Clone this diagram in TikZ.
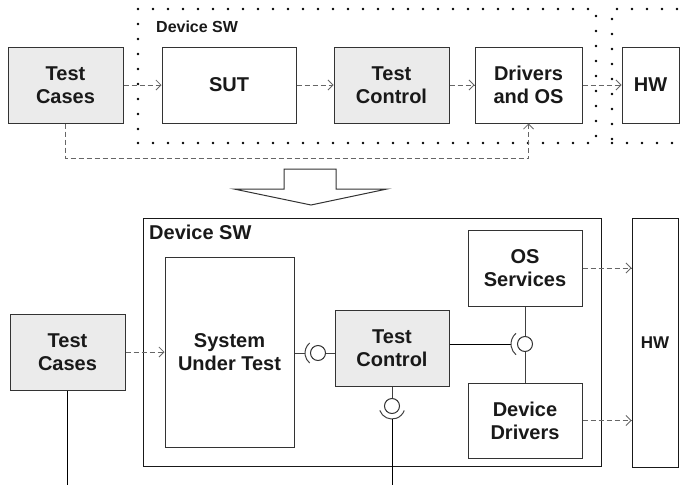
\documentclass[tikz,border=0pt]{standalone}
\usepackage{fontspec}
\setmainfont{Liberation Sans}
\usetikzlibrary{arrows.meta, positioning}

\begin{document}
\begin{tikzpicture}[x=1pt, y=-1pt,
        block/.style={rectangle, draw=black!80, fill=white, line width=1pt, inner sep=0pt, align=center, text=black!90, font=\fontsize{20}{23}\selectfont\bfseries},
        tester/.style={block, fill=black!8},
        frame/.style={rectangle, draw=black!90, line width=1pt, inner sep=0pt},
        dotbox/.style={rectangle, draw=black, line width=2.6pt, line cap=round, dash pattern=on 0pt off 15pt, inner sep=0pt},
        label/.style={anchor=west, inner sep=0pt, text=black!90, font=\fontsize{#1}{#1}\selectfont\bfseries},
        flow/.style={->, >={Straight Barb[length=5pt, width=10pt]}, draw=black!60, line width=0.8pt, dash pattern=on 5pt off 3pt},
        link/.style={draw=black!75, line width=1pt},
        ball/.style={circle, draw=black!80, fill=white, line width=1pt, minimum size=15pt, inner sep=0pt}
    ]
        \useasboundingbox (0,0) rectangle (683,485);

        % Oben: Ablauf
        \node[dotbox, minimum width=458pt, minimum height=134pt] (swA) at (367,76) {};
        \node[dotbox, minimum width=108pt, minimum height=134pt] (hwFrameA) at (666,76) {};
        \node[label=16] (swLabelA) at (156,27) {Device SW};

        \node[tester, minimum width=115pt, minimum height=76pt] (casesA) at (65.5,85) {Test\\Cases};
        \node[block, minimum width=134pt, minimum height=76pt] (sutA) at (229,85) {SUT};
        \node[tester, minimum width=115pt, minimum height=76pt] (ctrlA) at (391.5,85) {Test\\Control};
        \node[block, minimum width=107pt, minimum height=76pt] (drvA) at (528.5,85) {Drivers\\and OS};
        \node[block, minimum width=57pt, minimum height=76pt] (hwA) at (650.5,85) {HW};

        \draw[flow] (casesA) -- (sutA);
        \draw[flow] (sutA) -- (ctrlA);
        \draw[flow] (ctrlA) -- (drvA);
        \draw[flow] (drvA) -- (hwA);
        \draw[flow] (casesA.south) -- ++(0,35) -| (drvA.south);

        % Pfeil
        \draw[line width=1pt, draw=black!80, fill=white] (284,189) -- (284,169) -- (336,169) -- (336,189) -- (387,189) -- (311,205) -- (234,189) -- cycle;

        % Unten: Aufbau
        \node[frame, minimum width=458pt, minimum height=248pt] (swB) at (372,342) {};
        \node[label=20] (swLabelB) at (149,232) {Device SW};

        \node[tester, minimum width=115pt, minimum height=76pt] (casesB) at (67.5,352) {Test\\Cases};
        \node[block, minimum width=129pt, minimum height=190pt] (sutB) at (229.5,352) {System\\Under Test};
        \node[tester, minimum width=114pt, minimum height=76pt] (ctrlB) at (392,348) {Test\\Control};
        \node[block, minimum width=114pt, minimum height=76pt] (osB) at (525,268) {OS\\Services};
        \node[block, minimum width=114pt, minimum height=75pt] (devB) at (525,420.5) {Device\\Drivers};
        \node[block, draw=black!90, minimum width=46pt, minimum height=249pt, font=\fontsize{17}{20}\selectfont\bfseries] (hwB) at (655,342.5) {HW};

        % Schnittstellen
        \node[ball] (ballSut) at (318,353) {};
        \node[ball] (ballCtrl) at (392,406) {};
        \node[ball] (ballOs) at (525,344) {};
        \coordinate (sockSut) at (305,353);
        \coordinate (sockCtrl) at (392,419);
        \coordinate (sockOs) at (511,344);
        \coordinate (casesEnd) at (67.5,485);
        \coordinate (ctrlEnd) at (392,485);

        \draw[link] (sutB.east |- sockSut) -- (sockSut);
        \draw[link] (ballSut.center) ++(130:13pt) arc[start angle=130, end angle=230, radius=13pt];
        \draw[link] (ballSut) -- (ctrlB.west |- ballSut);

        \draw[link] (ctrlB.south) -- (ballCtrl);
        \draw[link] (ballCtrl.center) ++(200:13pt) arc[start angle=200, end angle=340, radius=13pt];
        \draw[link, draw=black] (sockCtrl) -- (ctrlEnd);

        \draw[link] (osB) -- (ballOs);
        \draw[link] (ballOs) -- (devB);
        \draw[link, draw=black] (ctrlB.east |- sockOs) -- (sockOs);
        \draw[link] (ballOs.center) ++(130:14pt) arc[start angle=130, end angle=230, radius=14pt];

        \draw[link, draw=black] (casesB) -- (casesEnd);

        % Verbindungen
        \draw[flow] (casesB) -- (sutB);
        \draw[flow] (osB) -- (hwB.west |- osB);
        \draw[flow] (devB) -- (hwB.west |- devB);
    \end{tikzpicture}
\end{document}
